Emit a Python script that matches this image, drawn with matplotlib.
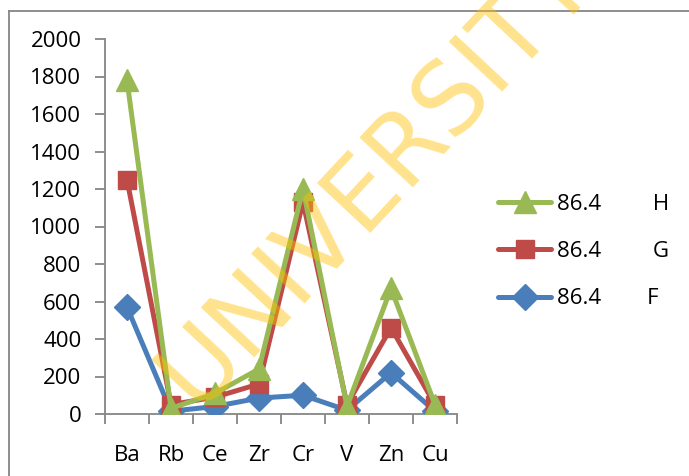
import matplotlib
matplotlib.use("Agg")
import matplotlib.pyplot as plt
from matplotlib.lines import Line2D

plt.rcParams['font.family'] = ['Open Sans', 'DejaVu Sans']

categories = ["Ba", "Rb", "Ce", "Zr", "Cr", "V", "Zn", "Cu"]
series_F = [570, 15, 40, 85, 100, 20, 220, 15]
series_G = [1250, 50, 90, 160, 1130, 50, 460, 50]
series_H = [1780, 30, 110, 240, 1200, 40, 670, 50]
labels = {"H": "86.4         H", "G": "86.4         G", "F": "86.4        F"}
yticks = [0, 200, 400, 600, 800, 1000, 1200, 1400, 1600, 1800, 2000]

W, H = 689, 476
fig = plt.figure(figsize=(W / 100, H / 100), dpi=100)
ax = fig.add_axes([105 / W, 1 - 414 / H, (457 - 105) / W, (414 - 39) / H])

x = list(range(len(categories)))
blue, red, green = "#4A7EBB", "#BE4B48", "#98B954"
ax.plot(x, series_F, color=blue, lw=3.6, marker="D", ms=13, mec=blue, mfc=blue,
        label=labels["F"], zorder=3, solid_capstyle="round")
ax.plot(x, series_G, color=red, lw=3.6, marker="s", ms=13, mec=red, mfc=red,
        label=labels["G"], zorder=4, solid_capstyle="round")
ax.plot(x, series_H, color=green, lw=3.6, marker="^", ms=16, mec=green, mfc=green,
        label=labels["H"], zorder=5, solid_capstyle="round")

ax.set_xlim(-0.5, len(categories) - 0.5)
ax.set_ylim(0, 2000)
ax.set_yticks(yticks)
ax.set_xticks(x)
ax.set_xticklabels(categories)
ax.set_xticks([i - 0.5 for i in range(len(categories) + 1)], minor=True)
ax.tick_params(axis="x", which="major", length=0, pad=22, labelsize=16)
ax.tick_params(axis="x", which="minor", length=7, width=1.3, color="#868686", direction="out")
ax.tick_params(axis="y", length=7, width=1.3, color="#868686", direction="out", pad=10, labelsize=16)
for s in ["top", "right"]:
    ax.spines[s].set_visible(False)
for s in ["left", "bottom"]:
    ax.spines[s].set_color("#868686")
    ax.spines[s].set_linewidth(1.3)
ax.set_facecolor("none")

handles, labs = ax.get_legend_handles_labels()
leg = fig.legend(handles[::-1], labs[::-1], loc="upper left",
                 bbox_to_anchor=(478 / W, 1 - 174 / H), frameon=False,
                 fontsize=16, handlelength=2.4, handletextpad=0.25, labelspacing=1.18)

# outer chart border (left and top visible)
fig.add_artist(Line2D([9 / W, 9 / W], [0, 1 - 11 / H], color="#868686", lw=1.3))
fig.add_artist(Line2D([9 / W, 1], [1 - 11 / H, 1 - 11 / H], color="#868686", lw=1.3))

# watermark
fig.text(396 / W, 1 - 196 / H, "UNIVERSITY", rotation=47, fontsize=71,
         color="#FFC000", alpha=0.45, ha="center", va="baseline",
         family="DejaVu Sans", zorder=10, rotation_mode="anchor")

fig.savefig("out.png", dpi=100)
